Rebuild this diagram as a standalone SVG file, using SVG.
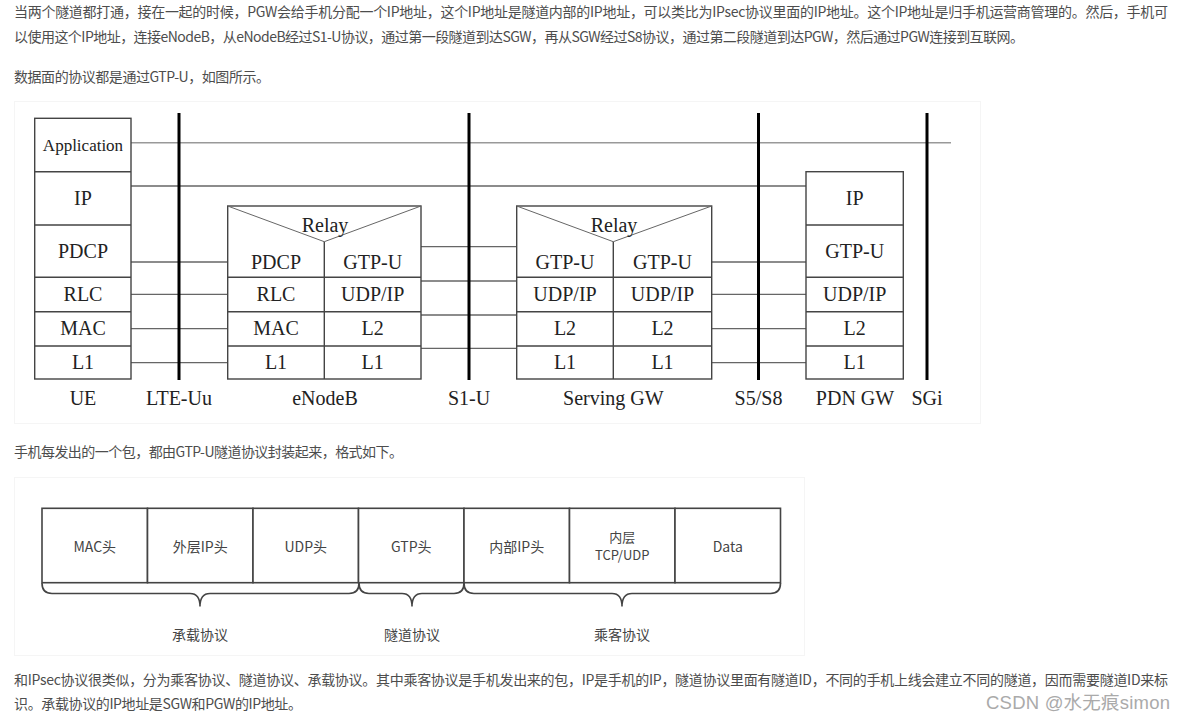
<svg xmlns="http://www.w3.org/2000/svg" width="1185" height="721" viewBox="0 0 1185 721">
<style>
.p{font-family:"Noto Sans CJK SC","Liberation Sans",sans-serif;font-size:14px;fill:#4d4d4d}
.t{font-family:"Liberation Serif",serif;font-size:20px;fill:#222;text-anchor:middle}
.box{fill:#fff;stroke:#444;stroke-width:1.4}
.div{stroke:#444;stroke-width:1.4;fill:none}
.relay{stroke:#666;stroke-width:1;fill:none}
.conn{stroke:#666;stroke-width:1.3;fill:none}
.ref{stroke:#000;stroke-width:3}
.frame{fill:none;stroke:#f5f5f5;stroke-width:1}
.cell{fill:#fff;stroke:#444;stroke-width:1.6}
.ct{font-family:"Noto Sans CJK SC","Liberation Sans",sans-serif;font-size:14px;fill:#444;text-anchor:middle}
.ct2{font-family:"Noto Sans CJK SC","Liberation Sans",sans-serif;font-size:13px;fill:#444;text-anchor:middle}
.brace{fill:none;stroke:#444;stroke-width:1.6}
</style>
<rect width="1185" height="721" fill="#fff"/>

<!-- paragraph text -->
<text class="p" x="14" y="17" textLength="1154" lengthAdjust="spacing">当两个隧道都打通，接在一起的时候，PGW会给手机分配一个IP地址，这个IP地址是隧道内部的IP地址，可以类比为IPsec协议里面的IP地址。这个IP地址是归手机运营商管理的。然后，手机可</text>
<text class="p" x="14" y="42" textLength="1010" lengthAdjust="spacing">以使用这个IP地址，连接eNodeB，从eNodeB经过S1-U协议，通过第一段隧道到达SGW，再从SGW经过S8协议，通过第二段隧道到达PGW，然后通过PGW连接到互联网。</text>
<text class="p" x="14" y="82" textLength="256" lengthAdjust="spacing">数据面的协议都是通过GTP-U，如图所示。</text>
<text class="p" x="14" y="457" textLength="389" lengthAdjust="spacing">手机每发出的一个包，都由GTP-U隧道协议封装起来，格式如下。</text>
<text class="p" x="14" y="685" textLength="1154" lengthAdjust="spacing">和IPsec协议很类似，分为乘客协议、隧道协议、承载协议。其中乘客协议是手机发出来的包，IP是手机的IP，隧道协议里面有隧道ID，不同的手机上线会建立不同的隧道，因而需要隧道ID来标</text>
<text class="p" x="14" y="709" textLength="288" lengthAdjust="spacing">识。承载协议的IP地址是SGW和PGW的IP地址。</text>

<!-- image frames -->
<rect class="frame" x="14.5" y="101.5" width="966" height="322"/>
<rect class="frame" x="14.5" y="477.5" width="790" height="178"/>

<!-- connectors -->
<g id="connectors">
  <line x1="131" y1="142.7" x2="951" y2="142.7" stroke="#999" stroke-width="1.5"/>
  <line class="conn" x1="131" y1="186" x2="806" y2="186"/>
  <line class="conn" x1="131" y1="262" x2="227.7" y2="262"/>
  <line class="conn" x1="131" y1="294.3" x2="227.7" y2="294.3"/>
  <line class="conn" x1="131" y1="328.7" x2="227.7" y2="328.7"/>
  <line class="conn" x1="131" y1="362.7" x2="227.7" y2="362.7"/>
  <line class="conn" x1="421" y1="246.7" x2="516.7" y2="246.7"/>
  <line class="conn" x1="421" y1="281" x2="516.7" y2="281"/>
  <line class="conn" x1="421" y1="315" x2="516.7" y2="315"/>
  <line class="conn" x1="421" y1="348.3" x2="516.7" y2="348.3"/>
  <line class="conn" x1="711.7" y1="262" x2="806" y2="262"/>
  <line class="conn" x1="711.7" y1="294.3" x2="806" y2="294.3"/>
  <line class="conn" x1="711.7" y1="328.7" x2="806" y2="328.7"/>
  <line class="conn" x1="711.7" y1="362.7" x2="806" y2="362.7"/>
</g>

<!-- reference points -->
<g id="lte-uu"><line class="ref" x1="179" y1="113" x2="179" y2="380"/><text class="t" x="179" y="405">LTE-Uu</text></g>
<g id="s1-u"><line class="ref" x1="469" y1="113" x2="469" y2="380"/><text class="t" x="469" y="405">S1-U</text></g>
<g id="s5-s8"><line class="ref" x1="758.5" y1="113" x2="758.5" y2="380"/><text class="t" x="758.5" y="405">S5/S8</text></g>
<g id="sgi"><line class="ref" x1="927" y1="113" x2="927" y2="380"/><text class="t" x="927" y="405">SGi</text></g>

<!-- UE -->
<g id="ue">
  <rect class="box" x="34.7" y="118.3" width="96.3" height="260.7"/>
  <path class="div" d="M34.7 171.7H131M34.7 225H131M34.7 277.3H131M34.7 311.7H131M34.7 346H131"/>
  <text class="t" x="83" y="151" style="font-size:17px">Application</text>
  <text class="t" x="83" y="205">IP</text>
  <text class="t" x="83" y="258">PDCP</text>
  <text class="t" x="83" y="301">RLC</text>
  <text class="t" x="83" y="335">MAC</text>
  <text class="t" x="83" y="369">L1</text>
  <text class="t" x="83" y="405">UE</text>
</g>

<!-- eNodeB -->
<g id="enodeb">
  <rect class="box" x="227.7" y="206" width="193.3" height="173"/>
  <path class="relay" d="M227.7 206L324.3 241.7L421 206"/>
  <path class="div" d="M324.3 241.7V379M227.7 277.3H421M227.7 311.7H421M227.7 346H421"/>
  <text class="t" x="325" y="232">Relay</text>
  <text class="t" x="276" y="269">PDCP</text>
  <text class="t" x="372.7" y="269">GTP-U</text>
  <text class="t" x="276" y="301">RLC</text>
  <text class="t" x="372.7" y="301">UDP/IP</text>
  <text class="t" x="276" y="335">MAC</text>
  <text class="t" x="372.7" y="335">L2</text>
  <text class="t" x="276" y="369">L1</text>
  <text class="t" x="372.7" y="369">L1</text>
  <text class="t" x="325" y="405">eNodeB</text>
</g>

<!-- Serving GW -->
<g id="serving-gw">
  <rect class="box" x="516.7" y="206" width="195" height="173"/>
  <path class="relay" d="M516.7 206L613.3 241.7L711.7 206"/>
  <path class="div" d="M613.3 241.7V379M516.7 277.3H711.7M516.7 311.7H711.7M516.7 346H711.7"/>
  <text class="t" x="614" y="232">Relay</text>
  <text class="t" x="565" y="269">GTP-U</text>
  <text class="t" x="662.5" y="269">GTP-U</text>
  <text class="t" x="565" y="301">UDP/IP</text>
  <text class="t" x="662.5" y="301">UDP/IP</text>
  <text class="t" x="565" y="335">L2</text>
  <text class="t" x="662.5" y="335">L2</text>
  <text class="t" x="565" y="369">L1</text>
  <text class="t" x="662.5" y="369">L1</text>
  <text class="t" x="613.3" y="405">Serving GW</text>
</g>

<!-- PDN GW -->
<g id="pdn-gw">
  <rect class="box" x="806" y="171.7" width="97.3" height="207.3"/>
  <path class="div" d="M806 225H903.3M806 277.3H903.3M806 311.7H903.3M806 346H903.3"/>
  <text class="t" x="854.7" y="205">IP</text>
  <text class="t" x="854.7" y="258">GTP-U</text>
  <text class="t" x="854.7" y="301">UDP/IP</text>
  <text class="t" x="854.7" y="335">L2</text>
  <text class="t" x="854.7" y="369">L1</text>
  <text class="t" x="855" y="405">PDN GW</text>
</g>

<!-- packet format -->
<g id="packet">
  <g id="cell-mac"><rect class="cell" x="42" y="508.3" width="105.5" height="74.4"/><text class="ct" x="94.75" y="552">MAC头</text></g>
  <g id="cell-outer-ip"><rect class="cell" x="147.5" y="508.3" width="105.5" height="74.4"/><text class="ct" x="200.25" y="552">外层IP头</text></g>
  <g id="cell-udp"><rect class="cell" x="253" y="508.3" width="105.5" height="74.4"/><text class="ct" x="305.75" y="552">UDP头</text></g>
  <g id="cell-gtp"><rect class="cell" x="358.5" y="508.3" width="105.5" height="74.4"/><text class="ct" x="411.25" y="552">GTP头</text></g>
  <g id="cell-inner-ip"><rect class="cell" x="464" y="508.3" width="105.5" height="74.4"/><text class="ct" x="516.75" y="552">内部IP头</text></g>
  <g id="cell-inner-tcp"><rect class="cell" x="569.5" y="508.3" width="105.5" height="74.4"/><text class="ct2" x="622.25" y="542">内层</text><text class="ct2" x="622.25" y="560">TCP/UDP</text></g>
  <g id="cell-data"><rect class="cell" x="675" y="508.3" width="105.5" height="74.4"/><text class="ct" x="727.75" y="552">Data</text></g>
</g>

<g id="braces">
  <path class="brace" d="M42 583Q42 593.5 52 593.5L190 593.5Q200 593.5 200 606.5Q200 593.5 210 593.5L349 593.5Q359 593.5 359 583"/>
  <path class="brace" d="M359 583Q359 593.5 369 593.5L402 593.5Q412 593.5 412 606.5Q412 593.5 422 593.5L454 593.5Q464 593.5 464 583"/>
  <path class="brace" d="M464 583Q464 593.5 474 593.5L612 593.5Q622 593.5 622 606.5Q622 593.5 632 593.5L770.5 593.5Q780.5 593.5 780.5 583"/>
  <text class="ct" x="200" y="640">承载协议</text>
  <text class="ct" x="412" y="640">隧道协议</text>
  <text class="ct" x="622" y="640">乘客协议</text>
</g>

<text x="1170" y="709" text-anchor="end" font-family="Liberation Sans,Noto Sans CJK SC,sans-serif" font-size="18.5" fill="#aaa" textLength="184" lengthAdjust="spacing">CSDN @水无痕simon</text>
</svg>
